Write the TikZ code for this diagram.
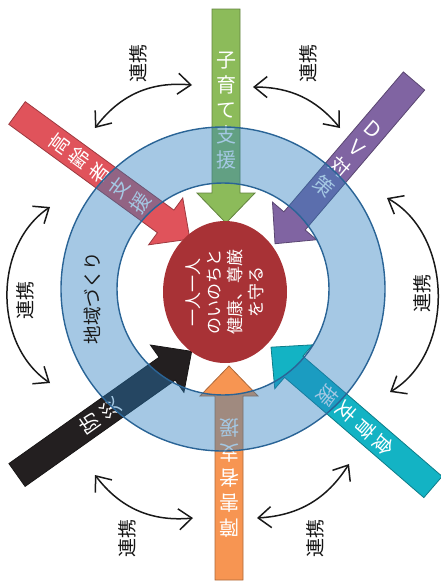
\documentclass[tikz,border=0pt]{standalone}
\usepackage{fontspec}
\setmainfont{Noto Sans CJK JP}
\usetikzlibrary{arrows.meta,shapes.geometric}
\definecolor{kosodate}{HTML}{8CBB5A}
\definecolor{shogai}{HTML}{F79552}
\definecolor{korei}{HTML}{E0535B}
\definecolor{dvpurple}{HTML}{8064A2}
\definecolor{bosai}{HTML}{231F20}
\definecolor{shokuiku}{HTML}{13B3C4}
\definecolor{inochired}{HTML}{A83236}
\definecolor{ringblue}{HTML}{287DBE}
\definecolor{ringline}{HTML}{2A6496}

% one block arrow: name, colour, tail, angle, text
\newcommand{\sectorarrow}[5]{%
  \begin{scope}[shift={#3},rotate=#4]
    \filldraw[fill=#2,draw=#2!70!black,line width=0.8pt]
      (0,-14) -- (184,-14) -- (184,-29) -- (214,0) -- (184,29) -- (184,14) -- (0,14) -- cycle;
    \node (#1) [pillartext,transform shape,rotate=90] at (102,0) {#5};
  \end{scope}}

\tikzset{
  pillartext/.style={text=white,align=center,inner sep=0pt,font=\fontsize{20}{25}\selectfont},
  renkei/.style={rotate=90,text=black!92,inner sep=0pt,font=\fontsize{19}{19}\selectfont},
  link/.style={<->,line width=1.5pt,black!90}
}

\begin{document}
\begin{tikzpicture}[x=1pt,y=1pt,>={Straight Barb[length=13pt,width=21pt]}]
\useasboundingbox (0,0) rectangle (440,-581);
\coordinate (hub) at (223,-289);

% the six fields
\sectorarrow{t-kosodate}{kosodate}{(226,-9)}{-90}{子\\育\\て\\支\\援}
\sectorarrow{t-shogai}{shogai}{(229,-580)}{90}{障\\害\\者\\支\\援}
\sectorarrow{t-korei}{korei}{(17,-113)}{-36.1}{高\\齢\\者\\支\\援}
\sectorarrow{t-dv}{dvpurple}{(414,-81)}{-130.5}{Ｄ\\Ｖ\\対\\策}
\sectorarrow{t-bosai}{bosai}{(17,-475)}{35.3}{防\\災}
\sectorarrow{t-shokuiku}{shokuiku}{(433,-487)}{139.2}{食\\育\\支\\援}

% ring
\fill[ringblue,fill opacity=.42,even odd rule] (hub) circle[radius=162pt] (hub) circle[radius=106pt];
\draw[ringline,line width=1.4pt] (hub) circle[radius=162pt] (hub) circle[radius=106pt];
\node (chiiki) [rotate=90,text=black!90,font=\fontsize{18.5}{18.5}\selectfont] at (92,-298) {地域づくり};

% centre
\node (inochi) [ellipse,rotate=90,fill=inochired,inner sep=0pt,
  minimum width=142pt,minimum height=124pt,text=white,align=center,
  font=\fontsize{17}{21}\selectfont] at (225,-292) {一人一人\\のいのちと\\健康、尊厳\\を守る};

% links
\coordinate (a1) at (95,-128);  \coordinate (a2) at (192,-85);
\coordinate (b1) at (253,-87);  \coordinate (b2) at (340,-128);
\coordinate (c1) at (50,-207);  \coordinate (c2) at (50,-383);
\coordinate (d1) at (387,-198); \coordinate (d2) at (390,-392);
\coordinate (e1) at (95,-475);  \coordinate (e2) at (193,-518);
\coordinate (f1) at (257,-518); \coordinate (f2) at (349,-464);
\draw[link] (a1) to[bend left=29] (a2);
\draw[link] (b1) to[bend left=25] (b2);
\draw[link] (c1) to[bend right=56] (c2);
\draw[link] (d1) to[bend left=60] (d2);
\draw[link] (e1) to[bend right=29] (e2);
\draw[link] (f1) to[bend right=27] (f2);
\node (r1) [renkei] at (138,-63) {連携};
\node (r2) [renkei] at (308,-63) {連携};
\node (r3) [renkei] at (25,-300) {連携};
\node (r4) [renkei] at (422,-293) {連携};
\node (r5) [renkei] at (127,-538) {連携};
\node (r6) [renkei] at (315,-538) {連携};
\end{tikzpicture}
\end{document}
